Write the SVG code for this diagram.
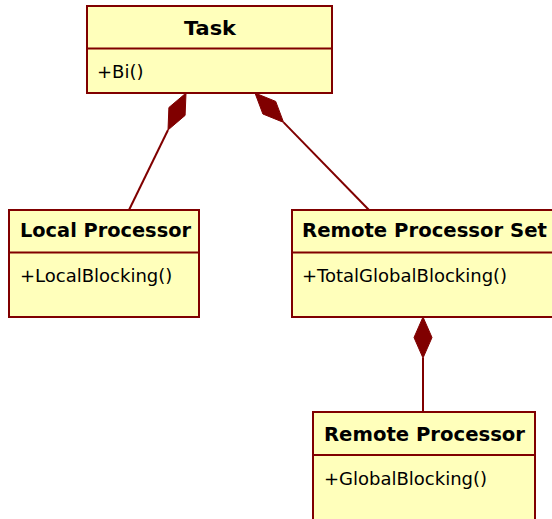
<svg xmlns="http://www.w3.org/2000/svg" width="552" height="519" viewBox="0 0 552 519">
<style>
.box{fill:#FFFFBB;stroke:#800000;stroke-width:2}
.div{stroke:#800000;stroke-width:2}
.edge{stroke:#800000;stroke-width:2;fill:none}
.dia{fill:#800000;stroke:#800000;stroke-width:1}
.t{font-family:"DejaVu Sans",sans-serif;font-weight:bold;font-size:19.5px;fill:#000}
.m{font-family:"DejaVu Sans",sans-serif;font-size:18px;fill:#000}
</style>
<rect width="552" height="519" fill="#fff"/>
<g id="connectors">
<line class="edge" x1="168" y1="130" x2="129" y2="210"/>
<polygon class="dia" points="186,93 185.1,115.4 168,130 168.9,107.5"/>
<line class="edge" x1="283.6" y1="122.4" x2="369" y2="210"/>
<polygon class="dia" points="255,93 275.7,101.4 283.6,122.4 262.9,114"/>
<line class="edge" x1="423" y1="358" x2="423" y2="412"/>
<polygon class="dia" points="423,317 432,337.5 423,358 414,337.5"/>
</g>
<g id="task">
<rect class="box" x="87" y="6" width="245" height="87"/>
<line class="div" x1="87" y1="48.5" x2="332" y2="48.5"/>
<text class="t" x="184" y="35" textLength="52" lengthAdjust="spacingAndGlyphs">Task</text>
<text class="m" x="97" y="78">+Bi()</text>
</g>
<g id="local-processor">
<rect class="box" x="9" y="210" width="190" height="107"/>
<line class="div" x1="9" y1="252.5" x2="199" y2="252.5"/>
<text class="t" x="20" y="237" textLength="171" lengthAdjust="spacingAndGlyphs">Local Processor</text>
<text class="m" x="20" y="282">+LocalBlocking()</text>
</g>
<g id="remote-processor-set">
<rect class="box" x="292" y="210" width="266" height="107"/>
<line class="div" x1="292" y1="252.5" x2="558" y2="252.5"/>
<text class="t" x="302" y="237" textLength="245" lengthAdjust="spacingAndGlyphs">Remote Processor Set</text>
<text class="m" x="302" y="282">+TotalGlobalBlocking()</text>
</g>
<g id="remote-processor">
<rect class="box" x="313" y="412" width="222" height="120"/>
<line class="div" x1="313" y1="455" x2="535" y2="455"/>
<text class="t" x="324" y="441" textLength="201" lengthAdjust="spacingAndGlyphs">Remote Processor</text>
<text class="m" x="324" y="485">+GlobalBlocking()</text>
</g>
</svg>
